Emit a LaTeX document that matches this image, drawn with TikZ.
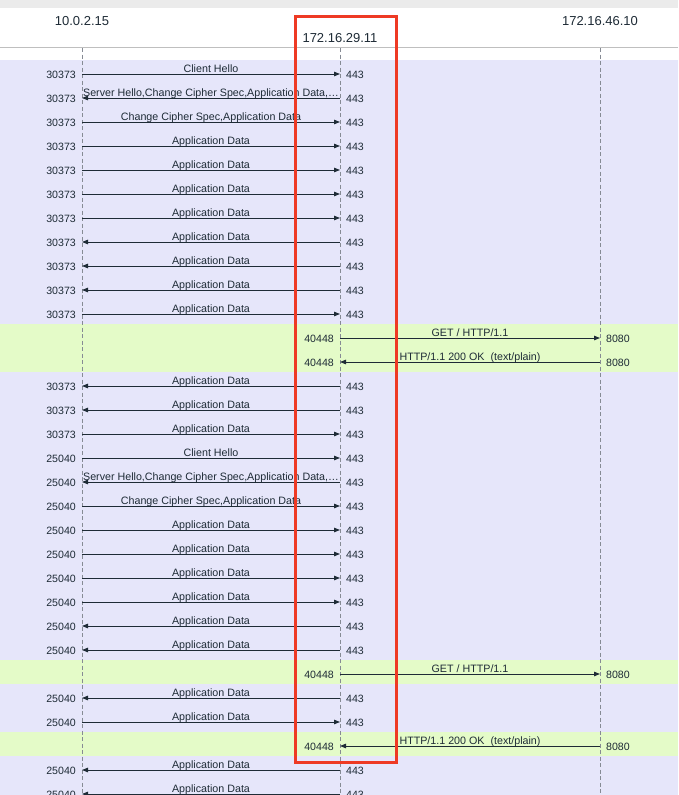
\documentclass[tikz,border=0pt]{standalone}
\usepackage{fontspec}
\setmainfont{Liberation Sans}
\usetikzlibrary{arrows.meta}
\definecolor{lav}{HTML}{E6E6FA}
\definecolor{grn}{HTML}{E4FBC8}
\definecolor{ink}{HTML}{1E2B36}
\definecolor{boxred}{HTML}{EE3A24}
\definecolor{lifegray}{HTML}{868B94}

\begin{document}
\begin{tikzpicture}[x=1pt,y=-1pt,
    host/.style={font=\fontsize{13}{15}\selectfont,text=ink,inner sep=0pt},
    port/.style={font=\fontsize{10.6}{12}\selectfont,text=ink,inner sep=0pt},
    lbl/.style={font=\fontsize{10.7}{12}\selectfont,text=ink,inner sep=0pt,anchor=base,yshift=2pt},
    life/.style={lifegray,line width=0.7pt,dash pattern=on 4pt off 2.5pt},
    msg/.style={ink,line width=1pt},
    toR/.style={-{Triangle[length=6pt,width=4.5pt]}},
    toL/.style={{Triangle[length=6pt,width=4.5pt]}-}]
    \clip (0,0) rectangle (678,795);
    \fill[white] (0,0) rectangle (678,795);
    \fill[black!8] (0,0) rectangle (678,8);
    \draw[black!25,line width=0.8pt] (0,47.5) -- (678,47.5);
    \fill[lav] (0,60) rectangle (678,795);
    \foreach \a/\b in {324/372,660/684,732/756}
        \fill[grn] (0,\a) rectangle (678,\b);
    \node[host] (hL) at (82,21) {10.0.2.15};
    \node[host] (hM) at (340,38) {172.16.29.11};
    \node[host] (hR) at (600,21) {172.16.46.10};
    \foreach \h in {hL,hM,hR}
        \draw[life] (\h |- 0,48) -- (\h |- 0,795);
    \foreach \i/\s/\t/\d/\lp/\rp/\txt in {
        1/L/M/toR/30373/443/Client Hello,
        2/L/M/toL/30373/443/{Server Hello,Change Cipher Spec,Application Data,…},
        3/L/M/toR/30373/443/{Change Cipher Spec,Application Data},
        4/L/M/toR/30373/443/Application Data,
        5/L/M/toR/30373/443/Application Data,
        6/L/M/toR/30373/443/Application Data,
        7/L/M/toR/30373/443/Application Data,
        8/L/M/toL/30373/443/Application Data,
        9/L/M/toL/30373/443/Application Data,
        10/L/M/toL/30373/443/Application Data,
        11/L/M/toR/30373/443/Application Data,
        12/M/R/toR/40448/8080/{GET / HTTP/1.1},
        13/M/R/toL/40448/8080/{HTTP/1.1 200 OK~~(text/plain)},
        14/L/M/toL/30373/443/Application Data,
        15/L/M/toL/30373/443/Application Data,
        16/L/M/toR/30373/443/Application Data,
        17/L/M/toR/25040/443/Client Hello,
        18/L/M/toL/25040/443/{Server Hello,Change Cipher Spec,Application Data,…},
        19/L/M/toR/25040/443/{Change Cipher Spec,Application Data},
        20/L/M/toR/25040/443/Application Data,
        21/L/M/toR/25040/443/Application Data,
        22/L/M/toR/25040/443/Application Data,
        23/L/M/toR/25040/443/Application Data,
        24/L/M/toL/25040/443/Application Data,
        25/L/M/toL/25040/443/Application Data,
        26/M/R/toR/40448/8080/{GET / HTTP/1.1},
        27/L/M/toL/25040/443/Application Data,
        28/L/M/toR/25040/443/Application Data,
        29/M/R/toL/40448/8080/{HTTP/1.1 200 OK~~(text/plain)},
        30/L/M/toL/25040/443/Application Data,
        31/L/M/toL/25040/443/Application Data} {
        \pgfmathsetmacro\y{50+24*\i}
        \coordinate (a\i) at (h\s |- 0,\y);
        \coordinate (b\i) at (h\t |- 0,\y);
        \node[port,anchor=east] (p\i) at ([xshift=-6pt,yshift=-1pt]a\i) {\lp};
        \node[port,anchor=west] (q\i) at ([xshift=6pt,yshift=-1pt]b\i) {\rp};
        \draw[msg,\d] (a\i) -- node[lbl] {\txt} (b\i);
    }
    \draw[boxred,line width=3pt] (295.5,16) rectangle (396.5,762.5);
\end{tikzpicture}
\end{document}
